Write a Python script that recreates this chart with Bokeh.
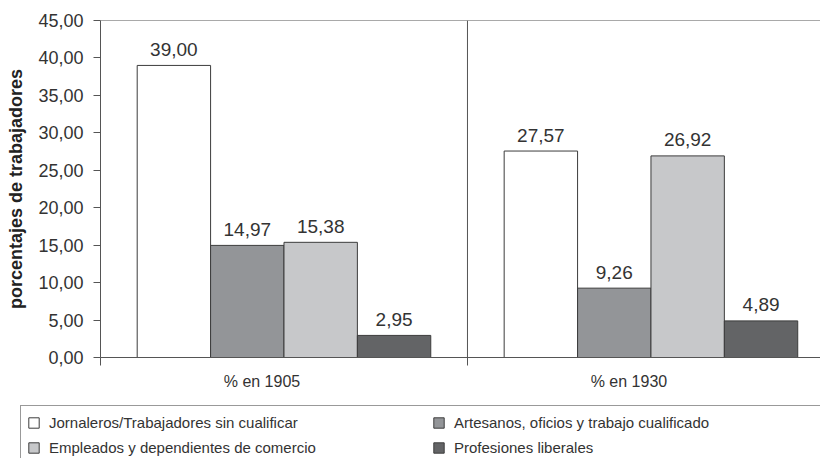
from bokeh.plotting import figure
from bokeh.layouts import column
from bokeh.models import (ColumnDataSource, Range1d, FixedTicker, CustomJSTickFormatter,
                          Span, Legend, LegendItem)
from bokeh.transform import dodge
from bokeh.core.properties import value
from bokeh.embed import file_html
from bokeh.resources import INLINE

# Data: share of workers (%) by occupational group
periods = ["% en 1905", "% en 1930"]
jornaleros = [39.00, 27.57]
artesanos = [14.97, 9.26]
empleados = [15.38, 26.92]
profesiones = [2.95, 4.89]

series_names = [
    "Jornaleros/Trabajadores sin cualificar",
    "Artesanos, oficios y trabajo cualificado",
    "Empleados y dependientes de comercio",
    "Profesiones liberales",
]
series_values = [jornaleros, artesanos, empleados, profesiones]
series_colors = ["#ffffff", "#939598", "#c7c8ca", "#636466"]

y_ticks = [0, 5, 10, 15, 20, 25, 30, 35, 40, 45]

FONT = "Liberation Sans"
TEXT = "#333333"
AXIS = "#555555"
EDGE = "#3c3c3c"

p = figure(width=820, height=400, output_backend="svg", toolbar_location=None,
           x_range=Range1d(0, 1.962), y_range=Range1d(0, 45),
           min_border_left=100, min_border_right=0, min_border_top=20,
           min_border_bottom=43, outline_line_color=None, frame_align=False)
p.grid.visible = False

# legend strip below the chart; its own frame spans the full width
lg = figure(width=820, height=58, output_backend="svg", toolbar_location=None,
            x_range=Range1d(0, 1.962), y_range=Range1d(100, 101),
            min_border=0, outline_line_color=None, frame_align=False,
            x_axis_location=None, y_axis_location=None)
lg.grid.visible = False

# group centres sit in the middle of each category slot
centres = [i + 0.5 for i in range(len(periods))]
bar_w = 0.2
offsets = [-0.3, -0.1, 0.1, 0.3]

items = []
for name, vals, col, off in zip(series_names, series_values, series_colors, offsets):
    src = ColumnDataSource(dict(
        x=centres, top=vals,
        lbl=[f"{v:.2f}".replace(".", ",") for v in vals]))
    bar_style = dict(x=dodge("x", off), top="top", width=bar_w, bottom=0, source=src,
                     fill_color=col, line_color=EDGE, line_width=1)
    p.vbar(**bar_style)
    p.text(x=dodge("x", off), y="top", text="lbl", source=src,
           text_align="center", text_baseline="alphabetic", y_offset=-16,
           text_font=value(FONT), text_font_size="19px", text_color=TEXT)
    # same bars in the legend strip (out of its y range) supply the swatches
    r = lg.vbar(**bar_style)
    items.append(LegendItem(label=name, renderers=[r]))

# frame top line and divider between the two periods
p.add_layout(Span(location=45, dimension="width", line_color=AXIS, line_width=1))
p.add_layout(Span(location=1, dimension="height", line_color=AXIS, line_width=1))

# y axis
ya = p.yaxis[0]
ya.ticker = FixedTicker(ticks=y_ticks, minor_ticks=[])
ya.formatter = CustomJSTickFormatter(code="return tick.toFixed(2).replace('.', ',');")
ya.axis_label = "porcentajes de trabajadores"
ya.axis_label_text_font = FONT
ya.axis_label_text_font_style = "bold"
ya.axis_label_text_font_size = "18px"
ya.axis_label_text_color = "#222222"
ya.axis_label_standoff = 9
ya.major_label_text_font = FONT
ya.major_label_text_font_size = "18px"
ya.major_label_text_color = TEXT
ya.major_label_standoff = 10
ya.major_tick_out = 7
ya.major_tick_in = 0
ya.axis_line_color = AXIS
ya.major_tick_line_color = AXIS

# x axis: period labels, ticks at slot boundaries
label_pos = [c - 0.06 for c in centres]
xa = p.xaxis[0]
xa.ticker = FixedTicker(ticks=label_pos, minor_ticks=[0, 1, 2])
xa.formatter = CustomJSTickFormatter(args=dict(labels=periods),
                                     code="return labels[Math.floor(tick)];")
xa.major_tick_line_color = None
xa.major_tick_out = 6
xa.minor_tick_out = 8
xa.minor_tick_in = 0
xa.minor_tick_line_color = AXIS
xa.axis_line_color = AXIS
xa.major_label_text_font = FONT
xa.major_label_text_font_size = "16px"
xa.major_label_text_color = TEXT
xa.major_label_standoff = 7

legend = Legend(items=items, location=(20, -6), orientation="horizontal", ncols=2,
                glyph_width=13, glyph_height=13, label_standoff=9, label_width=378,
                label_height=20, spacing=5, padding=6, margin=0,
                label_text_font=FONT, label_text_font_size="15px",
                label_text_color=TEXT, border_line_color="#333333",
                border_line_width=1, background_fill_color="#ffffff",
                background_fill_alpha=1)
lg.add_layout(legend)

layout = column(p, lg, spacing=0)
open("out.html", "w").write(file_html(layout, INLINE))
